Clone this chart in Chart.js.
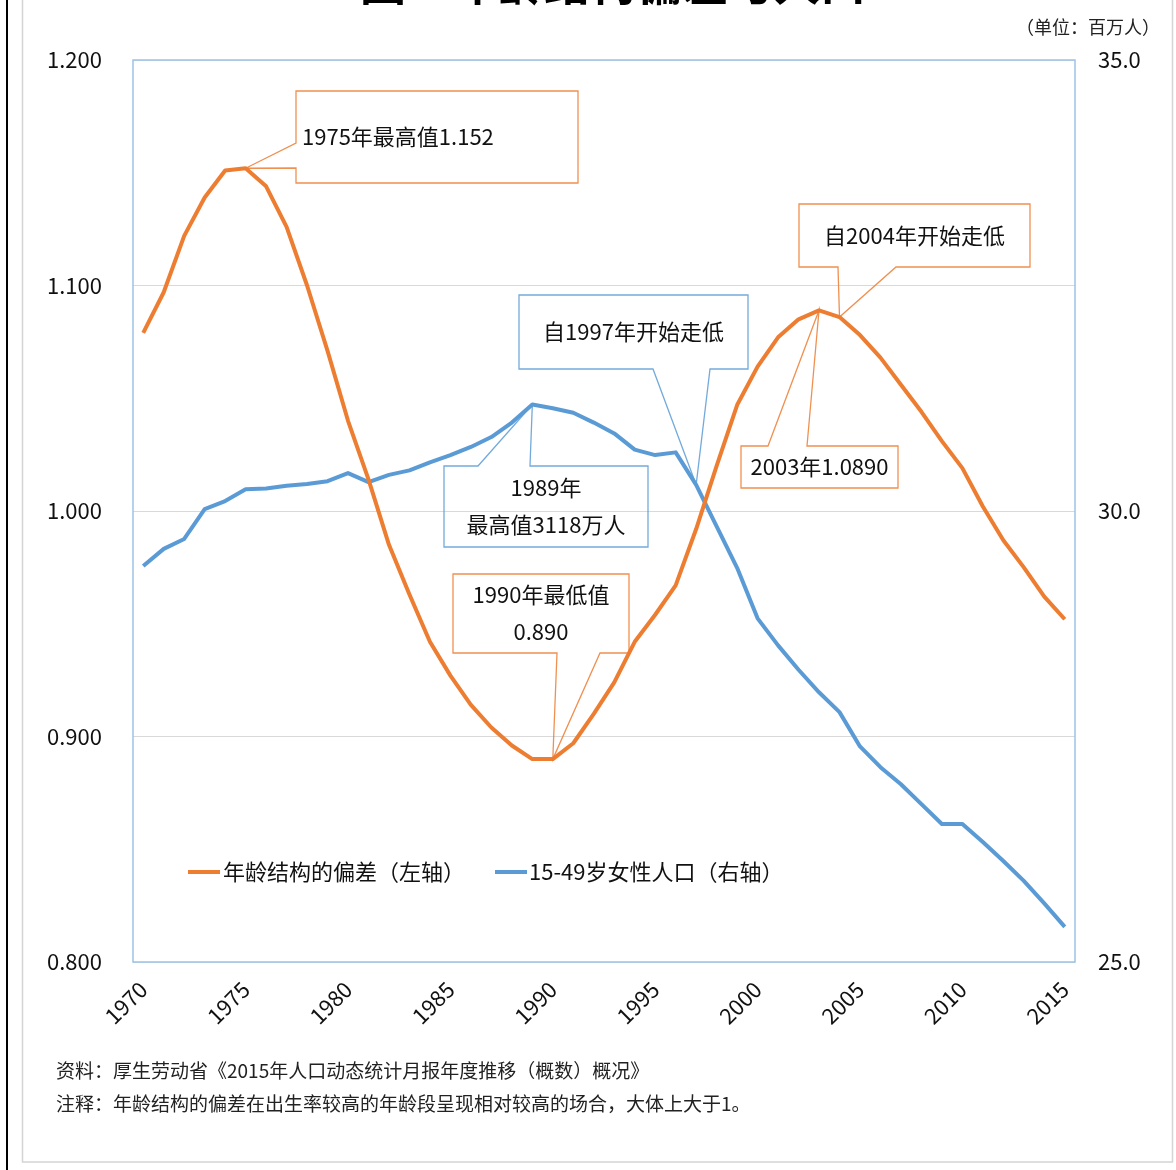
<!DOCTYPE html>
<html>
<head>
<meta charset="utf-8">
<script src="https://cdn.jsdelivr.net/npm/chart.js@4.4.1/dist/chart.umd.min.js"></script>
<style>
  html, body { margin: 0; padding: 0; background: #fff; }
  #wrap { width: 1176px; height: 1170px; position: relative; }
</style>
</head>
<body>
<div id="wrap"><canvas id="ratioChart"></canvas></div>
<script>
const years = [
  1970, 1971, 1972, 1973, 1974, 1975, 1976, 1977, 1978, 1979,
  1980, 1981, 1982, 1983, 1984, 1985, 1986, 1987, 1988, 1989,
  1990, 1991, 1992, 1993, 1994, 1995, 1996, 1997, 1998, 1999,
  2000, 2001, 2002, 2003, 2004, 2005, 2006, 2007, 2008, 2009,
  2010, 2011, 2012, 2013, 2014, 2015
];

// 年龄结构的偏差（左轴）
const ageBias = [
  1.079, 1.097, 1.122, 1.139, 1.151, 1.152, 1.144, 1.126, 1.100, 1.071,
  1.040, 1.014, 0.985, 0.963, 0.942, 0.927, 0.914, 0.904, 0.896, 0.890,
  0.890, 0.897, 0.910, 0.924, 0.942, 0.954, 0.967, 0.992, 1.020, 1.047,
  1.064, 1.077, 1.085, 1.089, 1.086, 1.078, 1.068, 1.056, 1.044, 1.031,
  1.019, 1.002, 0.987, 0.975, 0.962, 0.952
];

// 15-49岁女性人口（右轴，百万人）
const women1549 = [
  29.39, 29.58, 29.69, 30.02, 30.11, 30.24, 30.25, 30.28, 30.30, 30.33,
  30.42, 30.32, 30.40, 30.45, 30.54, 30.62, 30.71, 30.82, 30.98, 31.18,
  31.14, 31.09, 30.98, 30.86, 30.68, 30.62, 30.65, 30.29, 29.83, 29.37,
  28.81, 28.51, 28.24, 27.99, 27.77, 27.39, 27.16, 26.97, 26.75, 26.53,
  26.53, 26.33, 26.12, 25.90, 25.65, 25.39
];

const leftTicks = [0.8, 0.9, 1.0, 1.1, 1.2];
const rightTicks = [25, 30, 35];
const seriesNames = ["年龄结构的偏差（左轴）", "15-49岁女性人口（右轴）"];

const ORANGE = "#ed7d31";
const BLUE = "#5b9bd5";
const FONT = "'Noto Sans CJK SC', 'Noto Sans', sans-serif";

// callouts: box in page pixels, tip from data
const callouts = [
  { lines: ["1975年最高值1.152"], align: "left", textX: 302, box: [296, 91, 578, 183], side: "left", base: [143, 168], year: 1975, series: 0, color: ORANGE },
  { lines: ["自2004年开始走低"], box: [799, 204, 1030, 267], side: "bottom", base: [838, 896], year: 2004, series: 0, color: ORANGE },
  { lines: ["2003年1.0890"], box: [741, 446, 898, 488], side: "top", base: [768, 807], year: 2003, series: 0, color: ORANGE },
  { lines: ["自1997年开始走低"], box: [519, 295, 748, 369], side: "bottom", base: [653, 710], year: 1997, series: 1, color: BLUE },
  { lines: ["1989年", "最高值3118万人"], box: [444, 466, 648, 547], side: "top", base: [478, 530], year: 1989, series: 1, color: BLUE },
  { lines: ["1990年最低值", "0.890"], box: [453, 574, 629, 653], side: "bottom", base: [557, 600], year: 1990, series: 0, color: ORANGE }
];

const decorPlugin = {
  id: "decor",
  beforeDraw(chart) {
    const c = chart.ctx;
    c.save();
    c.fillStyle = "#fff";
    c.fillRect(0, 0, chart.width, chart.height);
    // panel frame
    c.strokeStyle = "#d4d4d4";
    c.lineWidth = 1.5;
    c.strokeRect(22.5, -5, 1150, 1167);
    c.fillStyle = "#000";
    c.fillRect(6, 0, 2, chart.height);
    // cut-off title
    c.font = "bold 46px " + FONT;
    c.textAlign = "center";
    c.textBaseline = "alphabetic";
    c.fillText("图　年龄结构偏差与人口", 613, 0);
    // unit
    c.font = "18px " + FONT;
    c.fillStyle = "#222";
    c.textAlign = "right";
    c.textBaseline = "middle";
    c.fillText("（单位：百万人）", 1160, 27);
    // notes
    c.textAlign = "left";
    c.font = "19px " + FONT;
    c.fillText("资料：厚生劳动省《2015年人口动态统计月报年度推移（概数）概况》", 56, 1071);
    c.fillText("注释：年龄结构的偏差在出生率较高的年龄段呈现相对较高的场合，大体上大于1。", 56, 1104);
    c.restore();
  },
  afterDatasetsDraw(chart) {
    const c = chart.ctx;
    const a = chart.chartArea;
    const xs = chart.scales.x;
    const ys = [chart.scales.y, chart.scales.y1];
    const data = [ageBias, women1549];
    c.save();
    // plot frame
    c.strokeStyle = "#9dc3e6";
    c.lineWidth = 1.5;
    c.strokeRect(a.left, a.top, a.right - a.left, a.bottom - a.top);

    // callouts
    callouts.forEach(o => {
      const i = years.indexOf(o.year);
      const tx = xs.getPixelForValue(i);
      const ty = ys[o.series].getPixelForValue(data[o.series][i]);
      const [x1, y1, x2, y2] = o.box;
      const [b1, b2] = o.base;
      c.beginPath();
      if (o.side === "left") {
        c.moveTo(x1, y1); c.lineTo(x2, y1); c.lineTo(x2, y2); c.lineTo(x1, y2);
        c.lineTo(x1, b2); c.lineTo(tx, ty); c.lineTo(x1, b1); c.closePath();
      } else if (o.side === "bottom") {
        c.moveTo(x1, y1); c.lineTo(x2, y1); c.lineTo(x2, y2); c.lineTo(b2, y2);
        c.lineTo(tx, ty); c.lineTo(b1, y2); c.lineTo(x1, y2); c.closePath();
      } else {
        c.moveTo(x1, y1); c.lineTo(b1, y1); c.lineTo(tx, ty); c.lineTo(b2, y1);
        c.lineTo(x2, y1); c.lineTo(x2, y2); c.lineTo(x1, y2); c.closePath();
      }
      c.strokeStyle = o.color;
      c.globalAlpha = 0.85;
      c.lineWidth = 1.3;
      c.stroke();
      c.globalAlpha = 1;
      c.fillStyle = "#111";
      c.font = "22px " + FONT;
      c.textBaseline = "middle";
      const cy = (y1 + y2) / 2;
      const gap = 37;
      o.lines.forEach((t, k) => {
        const yy = cy + (k - (o.lines.length - 1) / 2) * gap;
        if (o.align === "left") {
          c.textAlign = "left";
          c.fillText(t, o.textX, yy);
        } else {
          c.textAlign = "center";
          c.fillText(t, (x1 + x2) / 2, yy);
        }
      });
    });

    // legend inside plot
    const ly = 872;
    c.lineWidth = 4;
    c.strokeStyle = ORANGE;
    c.beginPath(); c.moveTo(188, ly); c.lineTo(220, ly); c.stroke();
    c.strokeStyle = BLUE;
    c.beginPath(); c.moveTo(495, ly); c.lineTo(527, ly); c.stroke();
    c.fillStyle = "#111";
    c.font = "22px " + FONT;
    c.textAlign = "left";
    c.textBaseline = "middle";
    c.fillText(seriesNames[0], 223, ly);
    c.fillText(seriesNames[1], 529, ly);
    c.restore();
  }
};

new Chart(document.getElementById("ratioChart"), {
  type: "line",
  data: {
    labels: years.map(String),
    datasets: [
      {
        label: seriesNames[0],
        data: ageBias,
        yAxisID: "y",
        borderColor: ORANGE,
        borderWidth: 4,
        pointRadius: 0,
        tension: 0,
        borderJoinStyle: "round"
      },
      {
        label: seriesNames[1],
        data: women1549,
        yAxisID: "y1",
        borderColor: BLUE,
        borderWidth: 4,
        pointRadius: 0,
        tension: 0,
        borderJoinStyle: "round"
      }
    ]
  },
  options: {
    responsive: true,
    maintainAspectRatio: false,
    animation: false,
    layout: { padding: { top: 60, left: 0, right: 0, bottom: 0 } },
    plugins: { legend: { display: false }, tooltip: { enabled: false } },
    scales: {
      x: {
        type: "category",
        offset: true,
        grid: { display: false, drawTicks: false },
        border: { display: false },
        ticks: {
          autoSkip: false,
          minRotation: 45,
          maxRotation: 45,
          padding: 14,
          color: "#111",
          font: { family: FONT, size: 22 },
          callback: (v, i) => (years[i] % 5 === 0 ? String(years[i]) : "")
        },
        afterFit: s => { s.height = 208; }
      },
      y: {
        position: "left",
        min: leftTicks[0],
        max: leftTicks[leftTicks.length - 1],
        afterBuildTicks: s => { s.ticks = leftTicks.map(v => ({ value: v })); },
        grid: { color: "#d9d9d9", lineWidth: 1, drawTicks: false },
        border: { display: false },
        ticks: {
          padding: 31,
          color: "#111",
          font: { family: FONT, size: 22 },
          callback: v => Number(v).toFixed(3)
        },
        afterFit: s => { s.width = 133; }
      },
      y1: {
        position: "right",
        min: rightTicks[0],
        max: rightTicks[rightTicks.length - 1],
        afterBuildTicks: s => { s.ticks = rightTicks.map(v => ({ value: v })); },
        grid: { display: false, drawTicks: false },
        border: { display: false },
        ticks: {
          padding: 23,
          color: "#111",
          font: { family: FONT, size: 22 },
          callback: v => Number(v).toFixed(1)
        },
        afterFit: s => { s.width = 101; }
      }
    }
  },
  plugins: [decorPlugin]
});
</script>
</body>
</html>
